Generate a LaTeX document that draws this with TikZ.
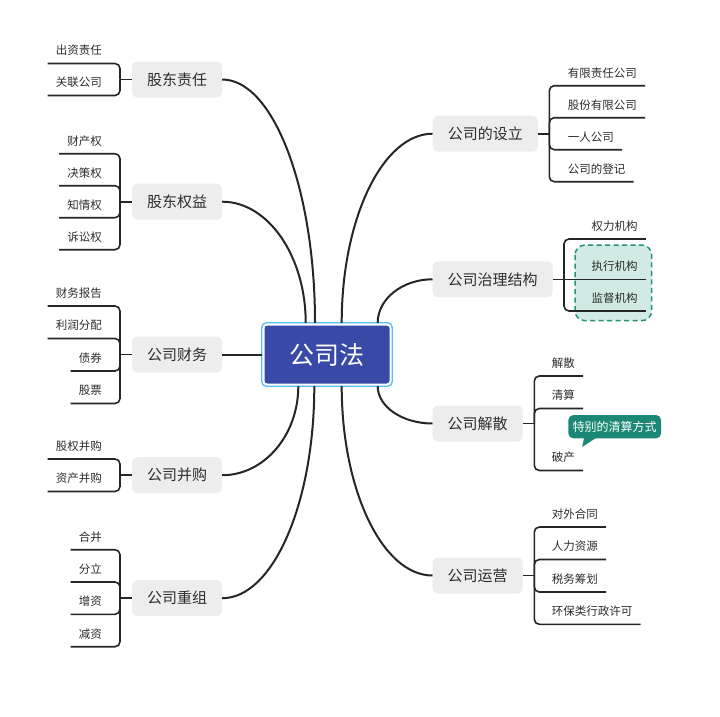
\documentclass[tikz,border=0pt]{standalone}
\usepackage{fontspec}
\setmainfont{Noto Sans CJK SC}
\usetikzlibrary{calc}
\definecolor{linec}{RGB}{38,38,38}
\definecolor{textc}{RGB}{45,45,45}
\definecolor{boxgray}{RGB}{237,237,237}
\definecolor{centralblue}{RGB}{57,73,168}
\definecolor{ringblue}{RGB}{84,192,240}
\definecolor{calloutteal}{RGB}{26,136,116}
\definecolor{bndfill}{RGB}{209,234,227}
\definecolor{bnddash}{RGB}{36,146,121}
\begin{document}
\begin{tikzpicture}[x=1pt,y=-1pt,
  br/.style={draw=linec, line width=1.6pt, rounded corners=5pt},
  conn/.style={draw=linec, line width=2pt},
  topic/.style={fill=boxgray, rounded corners=5pt, minimum height=36pt, inner xsep=15pt, inner ysep=0pt, text=textc, font=\fontsize{15}{18}\selectfont},
  item/.style={inner sep=0pt, text=textc, font=\fontsize{11.5}{14}\selectfont},
  centerbox/.style={fill=centralblue, rounded corners=3pt, minimum width=125pt, minimum height=58pt, inner sep=0pt, text=white, font=\fontsize{25}{29}\selectfont},
  callout/.style={fill=calloutteal, rounded corners=5pt, minimum width=92.7pt, minimum height=23.3pt, inner sep=0pt, text=white, font=\fontsize{12}{14}\selectfont}]
\useasboundingbox (0,0) rectangle (720,716);
\fill[white] (0,0) rectangle (720,716);

% central node
\node[centerbox] (c) at (327,354.5) {公司法};
\draw[ringblue, line width=1.3pt, rounded corners=4.5pt] ($(c.south west)+(-2.5,2.5)$) rectangle ($(c.north east)+(2.5,-2.5)$);

% main topics
\node[topic] (l1) at (177,79.5) {股东责任};
\node[topic] (l2) at (177,201.7) {股东权益};
\node[topic] (l3) at (177,354.5) {公司财务};
\node[topic] (l4) at (177,475.2) {公司并购};
\node[topic] (l5) at (177,598.2) {公司重组};
\node[topic] (r1) at (485.35,133.7) {公司的设立};
\node[topic] (r2) at (492.7,279.3) {公司治理结构};
\node[topic] (r3) at (477.7,423.5) {公司解散};
\node[topic] (r4) at (477.7,575.5) {公司运营};

% main connectors
\draw[conn] (l1.east) .. controls +(51,0) and +(0,-134) .. ($(c.north)+(-12,-2.5)$);
\draw[conn] (l2.east) .. controls +(46,0) and +(0,-66.5) .. ($(c.north)+(-21.3,-2.5)$);
\draw[conn] (l3.east) -- ($(c.west)+(-2.5,0)$);
\draw[conn] (l4.east) .. controls +(42,0) and +(0,49) .. ($(c.south)+(-28.7,2.5)$);
\draw[conn] (l5.east) .. controls +(51,0) and +(0,116.6) .. ($(c.south)+(-12.7,2.5)$);
\draw[conn] (r1.west) .. controls +(-50,0) and +(0,-104) .. ($(c.north)+(14.7,-2.5)$);
\draw[conn] (r2.west) .. controls +(-30,0) and +(0,-24) .. ($(c.north)+(50.7,-2.5)$);
\draw[conn] (r3.west) .. controls +(-30,0) and +(0,20.6) .. ($(c.south)+(50.7,2.5)$);
\draw[conn] (r4.west) .. controls +(-50,0) and +(0,104) .. ($(c.south)+(14.7,2.5)$);

% bracket junctions
\coordinate (bl1) at (120,79.5);
\coordinate (bl2) at (120,201.7);
\coordinate (bl3) at (120,354.5);
\coordinate (bl4) at (120,475.2);
\coordinate (bl5) at (120,598.2);
\coordinate (br1) at (549.3,133.7);
\coordinate (br2) at (564,279.3);
\coordinate (br3) at (534.3,423.5);
\coordinate (br4) at (534.3,575.5);

% boundary for 执行机构 / 监督机构
\draw[bnddash, fill=bndfill, line width=1.5pt, dash pattern=on 5pt off 3.5pt, rounded corners=10pt] (575,245) rectangle (651.7,320.7);

% left subtopics
\node[item, anchor=east] (a1) at (102,50.5) {出资责任};
\node[item, anchor=east] (a2) at (102,82.5) {关联公司};
\node[item, anchor=east] (b1) at (102,140.7) {财产权};
\node[item, anchor=east] (b2) at (102,172.7) {决策权};
\node[item, anchor=east] (b3) at (102,204.7) {知情权};
\node[item, anchor=east] (b4) at (102,236.7) {诉讼权};
\node[item, anchor=east] (d1) at (102,293) {财务报告};
\node[item, anchor=east] (d2) at (102,325.5) {利润分配};
\node[item, anchor=east] (d3) at (102,358) {债券};
\node[item, anchor=east] (d4) at (102,390.5) {股票};
\node[item, anchor=east] (e1) at (102,446) {股权并购};
\node[item, anchor=east] (e2) at (102,478.5) {资产并购};
\node[item, anchor=east] (f1) at (102,536.7) {合并};
\node[item, anchor=east] (f2) at (102,569) {分立};
\node[item, anchor=east] (f3) at (102,601.3) {增资};
\node[item, anchor=east] (f4) at (102,633.7) {减资};

\draw[conn, line width=1.6pt] (l1.west) -- (bl1);
\draw[conn, line width=1.6pt] (l2.west) -- (bl2);
\draw[conn, line width=1.6pt] (l3.west) -- (bl3);
\draw[conn, line width=1.6pt] (l4.west) -- (bl4);
\draw[conn, line width=1.6pt] (l5.west) -- (bl5);
\foreach \n/\b in {a1/bl1,a2/bl1,b1/bl2,b2/bl2,b3/bl2,b4/bl2,d1/bl3,d2/bl3,d3/bl3,d4/bl3,e1/bl4,e2/bl4,f1/bl5,f2/bl5,f3/bl5,f4/bl5}
  \draw[br] ($(\n.west)+(-8,13)$) -| (\b);

% right subtopics
\node[item, anchor=west] (g1) at (567.7,72.7) {有限责任公司};
\node[item, anchor=west] (g2) at (567.7,104.7) {股份有限公司};
\node[item, anchor=west] (g3) at (567.7,136.7) {一人公司};
\node[item, anchor=west] (g4) at (567.7,168.7) {公司的登记};
\node[item, anchor=west] (h1) at (591.5,226) {权力机构};
\node[item, anchor=west] (h2) at (591.5,266.3) {执行机构};
\node[item, anchor=west] (h3) at (591.5,298) {监督机构};
\node[item, anchor=west] (k1) at (551.7,363) {解散};
\node[item, anchor=west] (k2) at (551.7,395.5) {清算};
\node[item, anchor=west] (k3) at (551.7,457.5) {破产};
\node[item, anchor=west] (m1) at (551.7,514) {对外合同};
\node[item, anchor=west] (m2) at (551.7,546.5) {人力资源};
\node[item, anchor=west] (m3) at (551.7,579) {税务筹划};
\node[item, anchor=west] (m4) at (551.7,611.3) {环保类行政许可};

\draw[conn, line width=1.6pt] (r1.east) -- (br1);
\draw[conn, line width=1.6pt] (r2.east) -- ($(h2.east)+(8,13)$);
\draw[conn, line width=1.6pt] (r3.east) -- (br3);
\draw[conn, line width=1.6pt] (r4.east) -- (br4);
\foreach \n/\b in {g1/br1,g2/br1,g3/br1,g4/br1,h1/br2,h3/br2,k1/br3,k2/br3,k3/br3,m1/br4,m2/br4,m3/br4,m4/br4}
  \draw[br] ($(\n.east)+(8,13)$) -| (\b);

% callout
\node[callout] (cl) at (614.7,426.7) {特别的清算方式};
\fill[calloutteal] ($(cl.south west)+(16,-1)$) -- ($(cl.south west)+(14,8.4)$) -- ($(cl.south west)+(28.4,-1)$) -- cycle;
\end{tikzpicture}
\end{document}
